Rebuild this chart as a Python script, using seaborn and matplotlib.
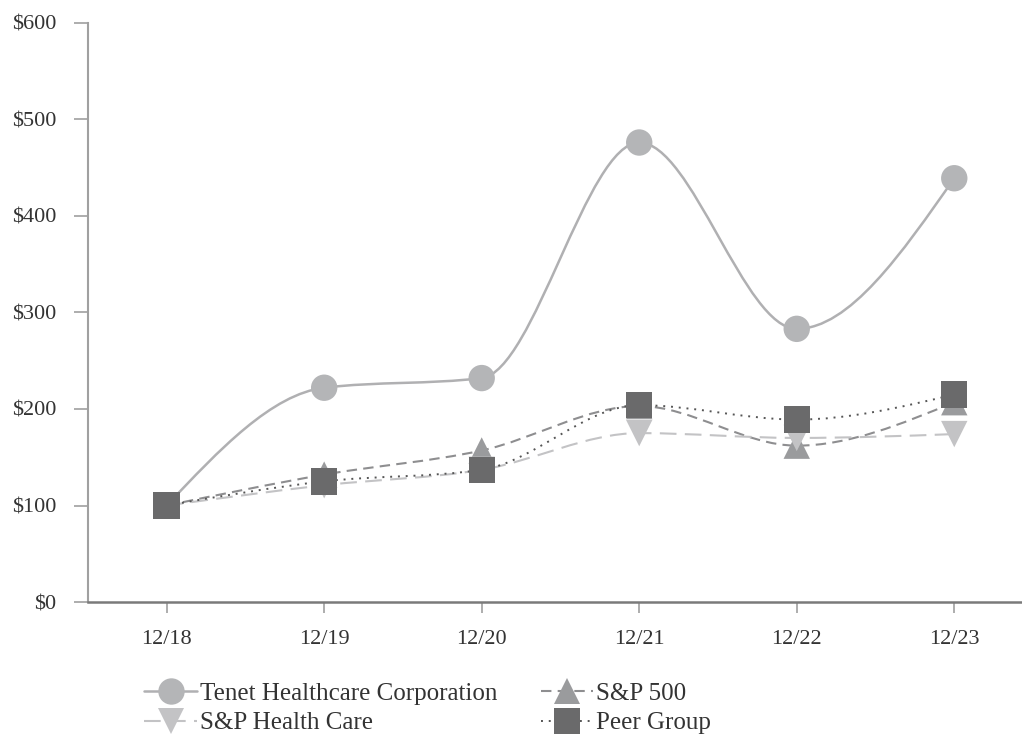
import numpy as np
import pandas as pd
import seaborn as sns
import matplotlib
matplotlib.use("Agg")
import matplotlib.pyplot as plt
from matplotlib.path import Path
from matplotlib.patches import PathPatch
from matplotlib.lines import Line2D

periods = ["12/18", "12/19", "12/20", "12/21", "12/22", "12/23"]
tenet = [100, 222, 232, 476, 283, 439]
sp500 = [100, 132, 157, 203, 162, 207]
sp_health = [100, 121, 137, 175, 170, 174]
peer_group = [100, 125, 137, 204, 189, 215]
y_ticks = [0, 100, 200, 300, 400, 500, 600]
y_labels = ["$0", "$100", "$200", "$300", "$400", "$500", "$600"]

series_names = ["Tenet Healthcare Corporation", "S&P 500", "S&P Health Care", "Peer Group"]
series_vals = [tenet, sp500, sp_health, peer_group]

sns.set_theme(style="white")
plt.rcParams["font.family"] = ["Liberation Serif", "DejaVu Serif"]

styles = {
    "Tenet Healthcare Corporation": dict(color="#b4b5b7", lc="#b0b0b2", marker="o", lw=1.8, dashes=None),
    "S&P 500": dict(color="#9a9b9d", lc="#8e8e90", marker="^", lw=1.5, dashes=(5, 3)),
    "S&P Health Care": dict(color="#c3c3c5", lc="#c3c3c5", marker="v", lw=1.5, dashes=(8, 4)),
    "Peer Group": dict(color="#6a6a6b", lc="#555555", marker="s", lw=1.4, dashes=(1, 3)),
}

fig = plt.figure(figsize=(10.22, 7.36), dpi=100)
ax = fig.add_axes([0.086, 0.182, 0.914, 0.787])

rows = []
for name, vals in zip(series_names, series_vals):
    for i, v in enumerate(vals):
        rows.append({"series": name, "x": i, "value": v})
df = pd.DataFrame(rows)


def monotone_path(xs, ys):
    # monotone cubic Bezier path through the data points (rendering only)
    n = len(xs)
    secs = [(ys[i + 1] - ys[i]) / (xs[i + 1] - xs[i]) for i in range(n - 1)]
    t = [0.0] * n
    for i in range(1, n - 1):
        s0, s1 = secs[i - 1], secs[i]
        h0, h1 = xs[i] - xs[i - 1], xs[i + 1] - xs[i]
        p = (s0 * h1 + s1 * h0) / (h0 + h1)
        t[i] = (np.sign(s0) + np.sign(s1)) * min(abs(s0), abs(s1), 0.5 * abs(p))
    t[0] = (3 * secs[0] - t[1]) / 2
    t[-1] = (3 * secs[-1] - t[-2]) / 2
    verts = [(xs[0], ys[0])]
    codes = [Path.MOVETO]
    for i in range(n - 1):
        dx = (xs[i + 1] - xs[i]) / 3
        verts += [(xs[i] + dx, ys[i] + dx * t[i]), (xs[i + 1] - dx, ys[i + 1] - dx * t[i + 1]),
                  (xs[i + 1], ys[i + 1])]
        codes += [Path.CURVE4] * 3
    return Path(verts, codes)


for z, name in enumerate(series_names):
    st = styles[name]
    sub = df[df["series"] == name]
    patch = PathPatch(monotone_path(list(sub["x"]), list(sub["value"])), facecolor="none",
                      edgecolor=st["lc"], lw=st["lw"], zorder=2 + z * 2)
    if st["dashes"] is not None:
        patch.set_linestyle((0, st["dashes"]))
    ax.add_patch(patch)
    sns.scatterplot(data=sub, x="x", y="value", marker=st["marker"], s=19 ** 2,
                    color=st["color"], edgecolor="none", linewidth=0, ax=ax, zorder=3 + z * 2, legend=False)

ax.set_xlim(-0.50, 5.43)
ax.set_ylim(0, 600)
ax.set_xticks(range(len(periods)))
ax.set_xticklabels(periods)
ax.set_yticks(y_ticks)
ax.set_yticklabels(y_labels)
ax.set_xlabel("")
ax.set_ylabel("")
for s in ["top", "right"]:
    ax.spines[s].set_visible(False)
ax.spines["left"].set_color("#a0a0a0")
ax.spines["left"].set_linewidth(1.5)
ax.spines["bottom"].set_color("#7a7a7a")
ax.spines["bottom"].set_linewidth(1.8)
ax.tick_params(axis="y", length=10, width=1.2, color="#a0a0a0", labelsize=16, labelcolor="#333333", pad=13, left=True)
ax.tick_params(axis="x", length=8, width=1.2, color="#a0a0a0", labelsize=16, labelcolor="#333333", pad=12, bottom=True)

handles = {}
for name in series_names:
    st = styles[name]
    h = Line2D([0], [0], color=st["lc"], lw=st["lw"], marker=st["marker"], markersize=19,
               markerfacecolor=st["color"], markeredgewidth=0)
    if st["dashes"] is not None:
        h.set_dashes(st["dashes"])
    handles[name] = h

leg_order = ["Tenet Healthcare Corporation", "S&P Health Care", "S&P 500", "Peer Group"]
leg = fig.legend([handles[n] for n in leg_order], leg_order, loc="upper left",
                 bbox_to_anchor=(0.129, 0.090), ncol=2,
                 frameon=False, fontsize=18, handlelength=2.1, handletextpad=0.12,
                 columnspacing=1.75, labelspacing=0.28, borderpad=0, labelcolor="#333333")

fig.savefig("out.png", dpi=100)
